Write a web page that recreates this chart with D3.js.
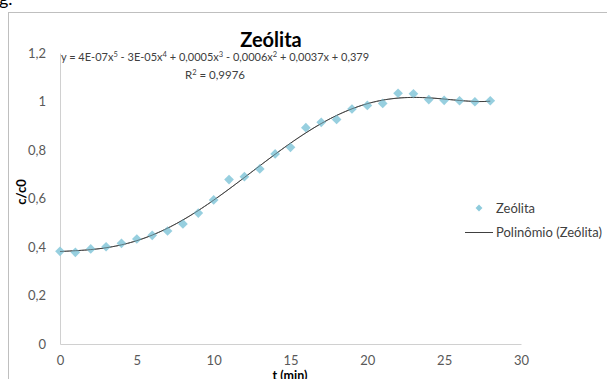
<!DOCTYPE html>
<html>
<head>
<meta charset="utf-8">
<script src="https://cdn.jsdelivr.net/npm/d3@7"></script>
<style>
  body { margin: 0; background: #fff; }
  text { font-family: Lato, "Open Sans", sans-serif; }
  .tick text { fill: #595959; font-size: 13px; }
  .axis path { stroke: #d0d0d0; }
</style>
</head>
<body>
<div id="visualization"></div>
<script>
var times = [0, 1, 2, 3, 4, 5, 6, 7, 8, 9, 10, 11, 12, 13, 14, 15, 16, 17, 18, 19, 20, 21, 22, 23, 24, 25, 26, 27, 28];
var cc0 = [0.382, 0.378, 0.392, 0.401, 0.415, 0.433, 0.448, 0.466, 0.495, 0.540, 0.594, 0.678, 0.690, 0.722,
           0.784, 0.811, 0.892, 0.914, 0.926, 0.969, 0.984, 0.992, 1.034, 1.032, 1.008, 1.005, 1.003, 0.999, 1.003];
var xTicks = [0, 5, 10, 15, 20, 25, 30];
var yTicks = [0, 0.2, 0.4, 0.6, 0.8, 1, 1.2];

render();

// least squares polynomial (like the Excel trendline), x scaled for stability
function polyFit(xs, ys, deg, s) {
  var n = deg + 1, A = [], b = [];
  for (var i = 0; i < n; i++) { A.push(new Array(n).fill(0)); b.push(0); }
  xs.forEach(function(xv, k) {
    var t = xv / s;
    for (var i = 0; i < n; i++) {
      b[i] += Math.pow(t, i) * ys[k];
      for (var j = 0; j < n; j++) A[i][j] += Math.pow(t, i + j);
    }
  });
  for (var c = 0; c < n; c++) {
    var p = c;
    for (var r = c + 1; r < n; r++) if (Math.abs(A[r][c]) > Math.abs(A[p][c])) p = r;
    var tmp = A[c]; A[c] = A[p]; A[p] = tmp;
    var tb = b[c]; b[c] = b[p]; b[p] = tb;
    for (var r2 = c + 1; r2 < n; r2++) {
      var f = A[r2][c] / A[c][c];
      for (var j2 = c; j2 < n; j2++) A[r2][j2] -= f * A[c][j2];
      b[r2] -= f * b[c];
    }
  }
  var coef = new Array(n).fill(0);
  for (var i2 = n - 1; i2 >= 0; i2--) {
    var sum = b[i2];
    for (var j3 = i2 + 1; j3 < n; j3++) sum -= A[i2][j3] * coef[j3];
    coef[i2] = sum / A[i2][i2];
  }
  return function(xv) {
    var t = xv / s, v = 0;
    for (var i = 0; i < n; i++) v += coef[i] * Math.pow(t, i);
    return v;
  };
}

function render() {
  var W = 607, H = 379;
  var margin = {left: 60, top: 53},
      width = 461,
      height = 291;

  var svg = d3.select('#visualization').append('svg')
    .attr('width', W).attr('height', H);

  // chart frame
  svg.append('rect')
    .attr('x', 8.5).attr('y', 12.5)
    .attr('width', 620).attr('height', 400)
    .attr('fill', 'none').attr('stroke', '#bfbfbf');

  svg.append('text')
    .attr('x', -1).attr('y', 5)
    .style('font-size', '18px').attr('fill', '#000')
    .text('g.');

  var x = d3.scaleLinear().domain([0, 30]).range([0, width]);
  var y = d3.scaleLinear().domain([0, 1.2]).range([height, 0]);

  var g = svg.append('g')
    .attr('transform', 'translate(' + margin.left + ',' + margin.top + ')');

  var fmt = function(d) { return d3.format('~g')(d).replace('.', ','); };

  g.append('g')
    .attr('class', 'axis')
    .attr('transform', 'translate(0,' + height + ')')
    .call(d3.axisBottom(x).tickValues(xTicks).tickSize(0).tickPadding(12).tickSizeOuter(0))
    .call(function(a) { a.selectAll('.tick line').remove(); });

  g.append('g')
    .attr('class', 'axis')
    .call(d3.axisLeft(y).tickValues(yTicks).tickFormat(fmt).tickSize(0).tickPadding(14).tickSizeOuter(0))
    .call(function(a) { a.selectAll('.tick line').remove(); });

  // trendline
  var fit = polyFit(times, cc0, 5, 28);
  var curve = d3.range(0, 28.01, 0.2).map(function(t) { return [t, fit(t)]; });
  var line = d3.line().x(function(d) { return x(d[0]); }).y(function(d) { return y(d[1]); });

  g.append('path')
    .datum(curve)
    .attr('fill', 'none')
    .attr('stroke', '#404040')
    .attr('stroke-width', 1)
    .attr('d', line);

  var diamond = d3.symbol().type(d3.symbolDiamond2).size(60);

  g.selectAll('.pt')
    .data(times)
    .enter().append('path')
    .attr('class', 'pt')
    .attr('d', diamond)
    .attr('transform', function(d, i) { return 'translate(' + x(d) + ',' + y(cc0[i]) + ')'; })
    .attr('fill', '#8ecbdc')
    .attr('fill-opacity', 0.92);

  // line again, faint, so it shows over the markers
  g.append('path')
    .datum(curve)
    .attr('fill', 'none')
    .attr('stroke', '#404040')
    .attr('stroke-opacity', 0.55)
    .attr('stroke-width', 1)
    .attr('d', line);

  // Title
  svg.append('text')
    .attr('x', 271).attr('y', 47)
    .attr('text-anchor', 'middle')
    .style('font-size', '20px').style('font-weight', 'bold')
    .attr('fill', '#000')
    .text('Zeólita');

  // equation
  var eq = svg.append('text')
    .attr('x', 215).attr('y', 61)
    .attr('text-anchor', 'middle')
    .style('font-size', '11px').attr('fill', '#404040');
  var parts = [['y = 4E-07x', ''], ['5', 'sup'], [' - 3E-05x', ''], ['4', 'sup'], [' + 0,0005x', ''], ['3', 'sup'],
               [' - 0,0006x', ''], ['2', 'sup'], [' + 0,0037x + 0,379', '']];
  parts.forEach(function(p, i) {
    var ts = eq.append('tspan').text(p[0]);
    if (p[1] === 'sup') ts.style('font-size', '7.5px').attr('dy', -4);
    else ts.attr('dy', i > 0 ? 4 : 0);
  });

  var r2 = svg.append('text')
    .attr('x', 215).attr('y', 79)
    .attr('text-anchor', 'middle')
    .style('font-size', '11.5px').attr('fill', '#404040');
  r2.append('tspan').text('R');
  r2.append('tspan').text('2').style('font-size', '7.5px').attr('dy', -4);
  r2.append('tspan').text(' = 0,9976').attr('dy', 4);

  // axis labels
  svg.append('text')
    .attr('x', 290).attr('y', 380)
    .attr('text-anchor', 'middle')
    .style('font-size', '12.5px').style('font-weight', 'bold').attr('fill', '#000')
    .text('t (min)');

  svg.append('text')
    .attr('transform', 'translate(26,192) rotate(-90)')
    .attr('text-anchor', 'middle')
    .style('font-size', '13px').style('font-weight', 'bold').attr('fill', '#000')
    .text('c/c0');

  // legend
  svg.append('path')
    .attr('d', d3.symbol().type(d3.symbolDiamond2).size(30))
    .attr('transform', 'translate(479,208)')
    .attr('fill', '#8ecbdc');
  svg.append('text')
    .attr('x', 496).attr('y', 212.5)
    .style('font-size', '13px').attr('fill', '#404040')
    .text('Zeólita');

  svg.append('line')
    .attr('x1', 465).attr('x2', 493)
    .attr('y1', 232.5).attr('y2', 232.5)
    .attr('stroke', '#404040');
  svg.append('text')
    .attr('x', 496).attr('y', 237)
    .style('font-size', '13px').attr('fill', '#404040')
    .text('Polinômio (Zeólita)');
}
</script>
</body>
</html>
